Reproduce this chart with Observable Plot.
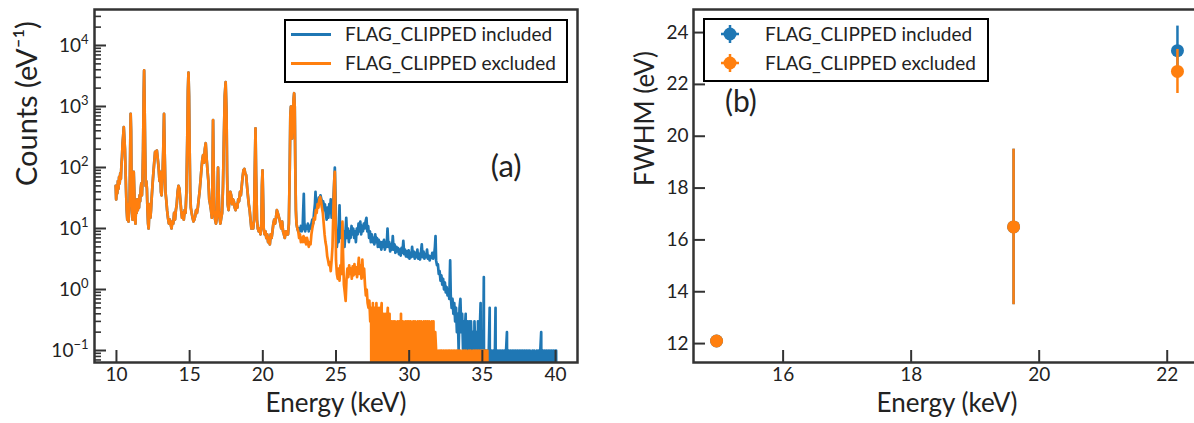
<!DOCTYPE html>
<html><head><meta charset="utf-8">
<script src="https://cdn.jsdelivr.net/npm/d3@7"></script>
<script src="https://cdn.jsdelivr.net/npm/@observablehq/plot@0.6"></script>
<style>
html,body{margin:0;padding:0;background:#fff;overflow:hidden;width:1194px;height:423px;}
#wrap{position:relative;width:1194px;height:423px;overflow:hidden;font-family:Lato,"Noto Sans",sans-serif;color:#222;}
#left{position:absolute;left:0;top:0;width:600px;height:423px;}
#right{position:absolute;left:600px;top:0;width:600px;height:423px;}
.legend{position:absolute;border:2px solid #000;background:#fff;box-sizing:border-box;}
.ltxt{position:absolute;font-size:19px;line-height:24px;white-space:nowrap;color:#222;}
.lsw{position:absolute;height:3px;}
</style></head><body>
<div id="wrap"><div id="left"></div><div id="right"></div></div>
<script>
// ---------- data ----------
const BLUE = "#1f77b4", ORANGE = "#ff7f0e";
const seriesNames = ["FLAG_CLIPPED included", "FLAG_CLIPPED excluded"];

// spectrum part shared by both selections (energy keV, counts per eV)
const commonSpectrum = [
[9.95,50],[9.98,30],[10.02,45],[10.06,38],[10.1,60],[10.14,45],[10.18,70],[10.22,55],[10.26,80],[10.3,65],[10.34,110],[10.38,150],[10.42,250],[10.46,330],[10.5,460],[10.54,300],[10.58,200],[10.62,90],[10.66,40],[10.7,20],[10.74,14],[10.78,25],[10.82,13],[10.86,18],[10.9,30],[10.94,200],[10.97,760],[11.0,400],[11.03,60],[11.07,20],[11.1,14],[11.14,30],[11.18,85],[11.22,40],[11.26,15],[11.3,12],[11.34,25],[11.38,18],[11.42,30],[11.46,20],[11.5,28],[11.54,22],[11.58,35],[11.62,28],[11.66,45],[11.7,55],[11.74,35],[11.78,60],[11.82,200],[11.86,1500],[11.89,3900],[11.92,1200],[11.96,200],[12.0,50],[12.04,60],[12.08,45],[12.12,20],[12.16,12],[12.2,10],[12.24,18],[12.28,25],[12.32,15],[12.36,20],[12.4,30],[12.46,50],[12.52,80],[12.58,120],[12.64,180],[12.7,150],[12.76,190],[12.82,140],[12.88,100],[12.94,60],[13.0,85],[13.04,40],[13.08,35],[13.14,60],[13.2,200],[13.25,760],[13.3,150],[13.35,40],[13.4,30],[13.46,20],[13.52,15],[13.58,12],[13.64,14],[13.7,12],[13.76,10],[13.82,13],[13.88,12],[13.94,18],[14.0,14],[14.06,20],[14.12,25],[14.18,40],[14.24,50],[14.3,45],[14.36,30],[14.42,20],[14.48,15],[14.54,18],[14.6,14],[14.66,20],[14.72,18],[14.78,40],[14.84,300],[14.88,1800],[14.92,3600],[14.96,1500],[15.0,200],[15.04,40],[15.08,22],[15.14,18],[15.2,15],[15.26,13],[15.32,14],[15.38,16],[15.44,20],[15.5,18],[15.56,22],[15.62,30],[15.68,40],[15.74,60],[15.8,90],[15.86,130],[15.92,160],[15.98,120],[16.04,200],[16.1,250],[16.16,140],[16.22,90],[16.28,60],[16.34,30],[16.4,25],[16.46,20],[16.52,15],[16.56,60],[16.6,600],[16.64,100],[16.68,20],[16.74,14],[16.8,12],[16.86,15],[16.9,40],[16.94,100],[16.98,40],[17.02,20],[17.06,14],[17.1,12],[17.16,15],[17.22,18],[17.28,50],[17.34,300],[17.4,1500],[17.46,2500],[17.52,800],[17.56,80],[17.6,25],[17.66,20],[17.72,30],[17.78,40],[17.84,35],[17.9,25],[17.96,30],[18.02,28],[18.08,22],[18.14,20],[18.2,25],[18.26,22],[18.32,30],[18.38,28],[18.44,40],[18.5,35],[18.56,50],[18.62,70],[18.68,90],[18.74,95],[18.8,80],[18.86,75],[18.92,50],[18.98,35],[19.04,25],[19.1,20],[19.16,14],[19.22,10],[19.28,12],[19.34,10],[19.4,14],[19.44,60],[19.5,440],[19.54,80],[19.6,14],[19.66,10],[19.72,9],[19.78,10],[19.84,8],[19.9,12],[19.94,50],[19.98,90],[20.02,30],[20.06,10],[20.12,8],[20.18,9],[20.24,7],[20.3,8],[20.36,6],[20.42,7],[20.48,5.5],[20.54,8],[20.6,7],[20.66,9],[20.72,12],[20.78,14],[20.84,12],[20.9,15],[20.96,20],[21.02,18],[21.08,16],[21.14,14],[21.2,12],[21.26,10],[21.32,13],[21.38,9],[21.44,8],[21.5,7],[21.56,9],[21.62,8],[21.68,9],[21.72,8],[21.78,12],[21.84,100],[21.88,700],[21.92,1000],[21.96,500],[22.0,300],[22.04,600],[22.1,1300],[22.14,1650],[22.18,1000],[22.22,100],[22.26,20],[22.3,12],[22.36,10]
];

// high-energy part with FLAG_CLIPPED events included
const includedTail = [
[22.42,9],[22.48,10],[22.54,9],[22.6,11],[22.66,9],[22.72,10],[22.76,20],[22.8,37],[22.84,12],[22.9,9],[22.96,11],[23.02,10],[23.08,12],[23.14,9],[23.2,11],[23.26,10],[23.32,12],[23.38,14],[23.44,12],[23.5,18],[23.56,25],[23.6,40],[23.64,22],[23.7,28],[23.76,25],[23.82,32],[23.88,28],[23.94,35],[24.0,30],[24.06,22],[24.12,28],[24.18,20],[24.24,25],[24.3,18],[24.36,14],[24.42,22],[24.48,15],[24.54,25],[24.6,18],[24.64,30],[24.7,15],[24.76,20],[24.82,30],[24.88,60],[24.92,100],[24.96,40],[25.0,12],[25.06,5],[25.12,8],[25.18,6],[25.24,24],[25.28,10],[25.34,7],[25.4,12],[25.46,6],[25.52,9],[25.58,5],[25.64,8],[25.7,15],[25.76,7],[25.82,10],[25.88,6],[25.94,9],[26.0,7],[26.06,11],[26.12,8],[26.18,10],[26.24,7],[26.3,9],[26.36,6],[26.42,10],[26.48,8],[26.54,12],[26.6,9],[26.66,13],[26.72,8],[26.78,11],[26.84,9],[26.9,12],[26.96,10],[27.02,13],[27.08,15],[27.14,9],[27.2,11],[27.26,7],[27.32,9],[27.38,6],[27.44,8],[27.5,6],[27.56,7],[27.62,5.5],[27.68,8],[27.74,6],[27.8,7],[27.86,5],[27.92,6.5],[27.98,5],[28.04,6],[28.1,4.5],[28.16,6],[28.22,5],[28.28,6.5],[28.34,4.5],[28.4,6],[28.46,5],[28.52,10],[28.58,5],[28.64,6],[28.7,4.2],[28.76,5.5],[28.82,4.5],[28.88,7.5],[28.94,4.5],[29.0,5.5],[29.06,4],[29.12,5],[29.18,4.2],[29.24,4.8],[29.3,3.8],[29.36,4.5],[29.42,3.6],[29.48,4.8],[29.54,4],[29.6,6.3],[29.66,3.8],[29.72,4.5],[29.78,3.5],[29.84,4.2],[29.9,3.4],[29.96,4.4],[30.02,3.2],[30.08,4],[30.14,3.4],[30.2,5],[30.26,3.5],[30.32,4.2],[30.38,3.2],[30.44,4],[30.5,3.4],[30.56,4.5],[30.62,3.2],[30.68,3.8],[30.74,3.1],[30.8,4],[30.86,5.5],[30.92,3.4],[30.98,4.2],[31.04,3.2],[31.1,3.8],[31.16,3.4],[31.22,4.5],[31.28,3.2],[31.34,3.6],[31.4,3],[31.46,3.5],[31.52,3.3],[31.58,4],[31.64,3.2],[31.7,3.6],[31.76,5],[31.8,7.5],[31.84,3],[31.9,2.5],[31.96,2.6],[32.02,1.8],[32.08,2],[32.14,1.4],[32.2,1.7],[32.26,1.2],[32.32,1.5],[32.38,1],[32.44,1.3],[32.5,0.9],[32.56,1.1],[32.62,0.8],[32.68,1],[32.74,0.7],[32.8,3],[32.84,0.8],[32.9,0.5],[32.96,0.7],[33.02,0.4],[33.08,0.6],[33.14,0.3],[33.2,0.5],[33.26,0.2],[33.32,0.4],[33.38,0.1],[33.44,0.5],[33.5,0.7],[33.56,0.2],[33.62,0.4],[33.68,0.1],[33.74,0.3],[33.8,0.2],[33.86,0.4],[33.92,0],[33.98,0.3],[34.04,0.1],[34.1,0.3],[34.16,0],[34.22,0.3],[34.28,0.1],[34.34,0.2],[34.4,0],[34.46,0.3],[34.52,0.1],[34.58,0.2],[34.64,0],[34.7,0.3],[34.76,0.1],[34.82,0.2],[34.88,0.6],[34.94,0],[35.0,0.2],[35.06,0.1],[35.1,1.6],[35.14,0],[35.2,0.1],[35.26,0],[35.32,0.1],[35.38,0],[35.44,0.1],[35.5,0.5],[35.56,0],[35.62,0.1],[35.68,0],[35.74,0.1],[35.8,0],[35.86,0.1],[35.9,0.5],[35.96,0],[36.02,0.1],[36.08,0],[36.14,0.1],[36.2,0],[36.26,0.1],[36.32,0],[36.38,0.1],[36.44,0],[36.5,0.1],[36.56,0],[36.62,0.1],[36.68,0.2],[36.74,0],[36.8,0.1],[36.86,0],[36.92,0.1],[36.98,0],[37.04,0.1],[37.1,0],[37.16,0.1],[37.22,0],[37.28,0.1],[37.34,0],[37.4,0.1],[37.46,0],[37.52,0.1],[37.58,0],[37.64,0.1],[37.7,0],[37.76,0.1],[37.82,0],[37.88,0.1],[37.94,0],[38.0,0.1],[38.06,0],[38.12,0.1],[38.18,0],[38.24,0.1],[38.3,0],[38.36,0],[38.42,0.1],[38.48,0],[38.54,0.1],[38.6,0],[38.66,0],[38.72,0.1],[38.78,0],[38.84,0.1],[38.9,0],[38.96,0.1],[39.02,0.2],[39.08,0],[39.14,0.1],[39.2,0],[39.26,0.1],[39.32,0],[39.38,0.1],[39.44,0],[39.5,0.1],[39.56,0],[39.62,0.1],[39.68,0],[39.74,0.1],[39.8,0],[39.86,0.1],[39.92,0],[39.98,0.1],[40.04,0.1],[40.1,0]
];

// high-energy part with FLAG_CLIPPED events excluded
const excludedTail = [
[22.42,9],[22.48,7],[22.54,8],[22.6,6],[22.66,7],[22.72,6],[22.78,7.5],[22.84,6],[22.9,7],[22.96,5.5],[23.02,7],[23.08,6],[23.14,5],[23.2,6],[23.26,5.5],[23.32,8],[23.38,10],[23.44,12],[23.5,15],[23.56,14],[23.62,20],[23.68,18],[23.74,25],[23.8,22],[23.86,30],[23.92,33],[23.98,28],[24.04,22],[24.1,18],[24.16,12],[24.22,8],[24.28,6],[24.34,5],[24.4,3.5],[24.46,3],[24.52,2.5],[24.58,2.8],[24.64,2],[24.7,3],[24.76,5],[24.82,20],[24.88,60],[24.92,85],[24.96,20],[25.0,3],[25.06,1.8],[25.12,1.5],[25.18,2.2],[25.24,1.4],[25.3,2.5],[25.36,1.8],[25.4,5],[25.44,13],[25.48,4],[25.54,1.2],[25.6,0.9],[25.66,0.65],[25.72,1.5],[25.78,2.2],[25.84,1.6],[25.9,2.5],[25.96,1.8],[26.02,2.2],[26.08,1.5],[26.14,2.4],[26.2,1.7],[26.26,2.6],[26.32,1.8],[26.38,2.3],[26.44,1.6],[26.5,2.2],[26.56,3.3],[26.62,1.8],[26.68,2.5],[26.74,1.5],[26.8,3.1],[26.86,1.6],[26.92,2.2],[26.98,1.2],[27.04,0.8],[27.1,1.0],[27.16,0.6],[27.22,0.5],[27.28,0.66],[27.34,0.3],[27.4,0.5],
[27.46,0],[27.52,0.6],[27.58,0],[27.64,0.5],[27.7,0],[27.76,0.6],[27.82,0.2],[27.88,0],[27.94,0.5],[28.0,0],[28.06,0.4],[28.12,0.6],[28.18,0],[28.24,0.4],[28.3,0],[28.36,0.4],[28.42,0],[28.48,0.3],[28.54,0.5],[28.6,0],[28.66,0.4],[28.72,0],[28.78,0.3],[28.84,0],[28.9,0.3],[28.96,0],[29.02,0.3],[29.08,0.2],[29.14,0],[29.2,0.3],[29.26,0],[29.32,0.3],[29.38,0],[29.44,0.4],[29.5,0],[29.56,0.3],[29.62,0],[29.68,0.2],[29.74,0.3],[29.8,0],[29.86,0.3],[29.92,0],[29.98,0.3],[30.04,0],[30.1,0.3],[30.16,0.2],[30.22,0],[30.28,0.3],[30.34,0],[30.4,0.3],[30.46,0],[30.52,0.2],[30.58,0.3],[30.64,0],[30.7,0.3],[30.76,0],[30.82,0.3],[30.88,0],[30.94,0.2],[31.0,0.3],[31.06,0],[31.12,0.3],[31.18,0],[31.24,0.3],[31.3,0],[31.36,0.3],[31.42,0.2],[31.48,0],[31.54,0.3],[31.6,0],[31.66,0.3],[31.72,0],[31.78,0.2],[31.84,0.1],[31.88,0],
[31.92,0.1],[31.98,0],[32.04,0.1],[32.1,0],[32.16,0.1],[32.22,0.1],[32.28,0],[32.34,0.1],[32.4,0],[32.46,0.1],[32.52,0],[32.58,0.1],[32.64,0],[32.7,0.1],[32.76,0.1],[32.82,0],[32.88,0.1],[32.94,0],[33.0,0.1],[33.06,0],[33.12,0.1],[33.18,0],[33.24,0.1],[33.3,0],[33.36,0.1],[33.42,0],[33.48,0.1],[33.54,0],[33.6,0],[33.66,0.1],[33.72,0],[33.78,0.1],[33.84,0],[33.9,0.1],[33.96,0],[34.02,0],[34.08,0.1],[34.14,0],[34.2,0.1],[34.26,0],[34.32,0],[34.38,0.1],[34.44,0],[34.5,0.1],[34.56,0],[34.62,0.1],[34.68,0],[34.74,0.1],[34.8,0],[34.86,0.1],[34.92,0],[34.98,0.1],[35.04,0],[35.1,0.1],[35.16,0],[35.22,0.1],[35.28,0],[35.34,0.1],[35.4,0]
];

// axis ticks
const spectrumXTicks = [10, 15, 20, 25, 30, 35, 40];
const spectrumYTicks = [0.1, 1, 10, 100, 1000, 10000];
const spectrumYTickLabels = ["10^\u22121", "10^0", "10^1", "10^2", "10^3", "10^4"];
const fwhmXTicks = [16, 18, 20, 22];
const fwhmYTicks = [12, 14, 16, 18, 20, 22, 24];

// panel (b): FWHM of fitted lines
const lineEnergy = [14.96, 19.6, 22.16];
const fwhmIncluded = [12.1, 16.5, 23.3];
const fwhmIncludedErr = [0.1, 3.0, 0.95];
const fwhmExcluded = [12.1, 16.5, 22.5];
const fwhmExcludedErr = [0.1, 3.0, 0.85];

// ---------- build ----------
const FONT = 'Lato, "Noto Sans", sans-serif';
const INK = "#222", FRAME = "#333";
const includedSpectrum = commonSpectrum.concat(includedTail);
const excludedSpectrum = commonSpectrum.concat(excludedTail);
const pos = d => d[1] > 0 ? d[1] : 1e-6; // zero counts fall below the log axis

const minorY = [];
for (let k = -2; k <= 4; k++) for (let m = 2; m <= 9; m++) {
  const v = m * Math.pow(10, k);
  if (v > 0.0636 && v < 38900) minorY.push(v);
}

const baseStyle = {fontFamily: FONT, fontSize: "19px", color: INK, background: "transparent", overflow: "visible"};

// frame sizes (px) used for inward tick lengths
const H = 423, MT = 9, MB = 61;
const FH = H - MT - MB;            // 353
const LW = 600 - 94 - 23;          // 483
const RW = 600 - 93;               // 507
const MAJ = 12, MIN = 7;

const left = Plot.plot({
  width: 600, height: H,
  marginLeft: 94, marginRight: 23, marginTop: MT, marginBottom: MB,
  style: baseStyle,
  x: {domain: [8.5, 41.5]},
  y: {type: "log", domain: [0.0636, 38900]},
  marks: [
    Plot.line(includedSpectrum, {x: d => d[0], y: pos, stroke: BLUE, strokeWidth: 2.7, clip: true, strokeLinejoin: "round"}),
    Plot.line(excludedSpectrum, {x: d => d[0], y: pos, stroke: ORANGE, strokeWidth: 2.7, clip: true, strokeLinejoin: "round"}),
    Plot.text(["(a)"], {x: [36.63], y: [100], text: d => d, fontSize: 31, fill: INK}),
    Plot.tickX(spectrumXTicks, {x: d => d, insetTop: FH - MAJ, stroke: FRAME, strokeWidth: 2}),
    Plot.tickY(spectrumYTicks, {y: d => d, insetRight: LW - MAJ, stroke: FRAME, strokeWidth: 2}),
    Plot.tickY(minorY, {y: d => d, insetRight: LW - MIN, stroke: FRAME, strokeWidth: 1.6}),
    Plot.axisX(spectrumXTicks, {anchor: "bottom", tickSize: 0, tickPadding: 5, label: null, fontSize: 19}),
    Plot.axisY(spectrumYTicks, {anchor: "left", tickSize: 0, tickPadding: 6, label: null, fontSize: 19,
      tickFormat: d => spectrumYTickLabels[spectrumYTicks.indexOf(d)]}),
    Plot.frame({stroke: FRAME, strokeWidth: 2.5}),
    Plot.text(["Energy (keV)"], {frameAnchor: "bottom", dy: 49, fontSize: 26, fill: INK}),
    Plot.text(["Counts (eV\u207B\u00B9)"], {frameAnchor: "left", rotate: -90, dx: -67, fontSize: 29, fill: INK})
  ]
});

// superscript exponents on the log tick labels
left.querySelectorAll("text").forEach(t => {
  const s = t.textContent;
  const m = s.match(/^10\^(.+)$/);
  if (m) {
    t.textContent = "10";
    const ts = document.createElementNS("http://www.w3.org/2000/svg", "tspan");
    ts.setAttribute("dy", "-0.62em");
    ts.setAttribute("font-size", "13px");
    ts.textContent = m[1];
    t.appendChild(ts);
  }
});
document.getElementById("left").appendChild(left);

const fwhmRows = [];
lineEnergy.forEach((e, i) => fwhmRows.push({e, v: fwhmIncluded[i], err: fwhmIncludedErr[i], s: 0}));
lineEnergy.forEach((e, i) => fwhmRows.push({e, v: fwhmExcluded[i], err: fwhmExcludedErr[i], s: 1}));
const inc = fwhmRows.filter(d => d.s === 0), exc = fwhmRows.filter(d => d.s === 1);

const right = Plot.plot({
  width: 600, height: H,
  marginLeft: 93, marginRight: 0, marginTop: MT, marginBottom: MB,
  style: baseStyle,
  x: {domain: [14.6, 22.52]},
  y: {domain: [11.27, 24.89]},
  marks: [
    Plot.ruleX(inc, {x: "e", y1: d => d.v - d.err, y2: d => d.v + d.err, stroke: BLUE, strokeWidth: 2.5}),
    Plot.dot(inc, {x: "e", y: "v", r: 6.5, fill: BLUE}),
    Plot.ruleX(exc, {x: "e", y1: d => d.v - d.err, y2: d => d.v + d.err, stroke: ORANGE, strokeWidth: 2.5}),
    Plot.dot(exc, {x: "e", y: "v", r: 6.5, fill: ORANGE}),
    Plot.text(["(b)"], {x: [15.34], y: [21.29], text: d => d, fontSize: 30, fill: INK}),
    Plot.tickX(fwhmXTicks, {x: d => d, insetTop: FH - MAJ, stroke: FRAME, strokeWidth: 2}),
    Plot.tickY(fwhmYTicks, {y: d => d, insetRight: RW - MAJ, stroke: FRAME, strokeWidth: 2}),
    Plot.axisX(fwhmXTicks, {anchor: "bottom", tickSize: 0, tickPadding: 5, label: null, fontSize: 19}),
    Plot.axisY(fwhmYTicks, {anchor: "left", tickSize: 0, tickPadding: 5, label: null, fontSize: 19}),
    Plot.frame({stroke: FRAME, strokeWidth: 2.5}),
    Plot.text(["Energy (keV)"], {frameAnchor: "bottom", dy: 49, fontSize: 26, fill: INK}),
    Plot.text(["FWHM (eV)"], {frameAnchor: "left", rotate: -90, dx: -48, fontSize: 26, fill: INK})
  ]
});
document.getElementById("right").appendChild(right);

// ---------- legends ----------
const wrap = document.getElementById("wrap");
function el(tag, cls, css, html) {
  const e = document.createElement(tag);
  if (cls) e.className = cls;
  Object.assign(e.style, css);
  if (html != null) e.innerHTML = html;
  wrap.appendChild(e);
  return e;
}
// panel (a) legend
el("div", "legend", {left: "284px", top: "19px", width: "284px", height: "64px"});
[BLUE, ORANGE].forEach((c, i) => {
  const cy = 34 + i * 29;
  el("div", "lsw", {left: "291px", top: (cy - 1.5) + "px", width: "40px", background: c});
  el("div", "ltxt", {left: "345px", top: (cy - 12) + "px"}, seriesNames[i]);
});
// panel (b) legend
el("div", "legend", {left: "703px", top: "18px", width: "286px", height: "64px"});
[BLUE, ORANGE].forEach((c, i) => {
  const cy = 33.5 + i * 29;
  el("div", "", {position: "absolute", left: "720px", top: (cy - 10) + "px", width: "20px", height: "20px"},
    `<svg width="20" height="20" viewBox="-10 -10 20 20"><line x1="0" y1="-9" x2="0" y2="9" stroke="${c}" stroke-width="2.5"/><line x1="-9" y1="0" x2="9" y2="0" stroke="${c}" stroke-width="2.5"/><circle r="6.5" fill="${c}"/></svg>`);
  el("div", "ltxt", {left: "765px", top: (cy - 12) + "px"}, seriesNames[i]);
});
</script>
</body></html>
